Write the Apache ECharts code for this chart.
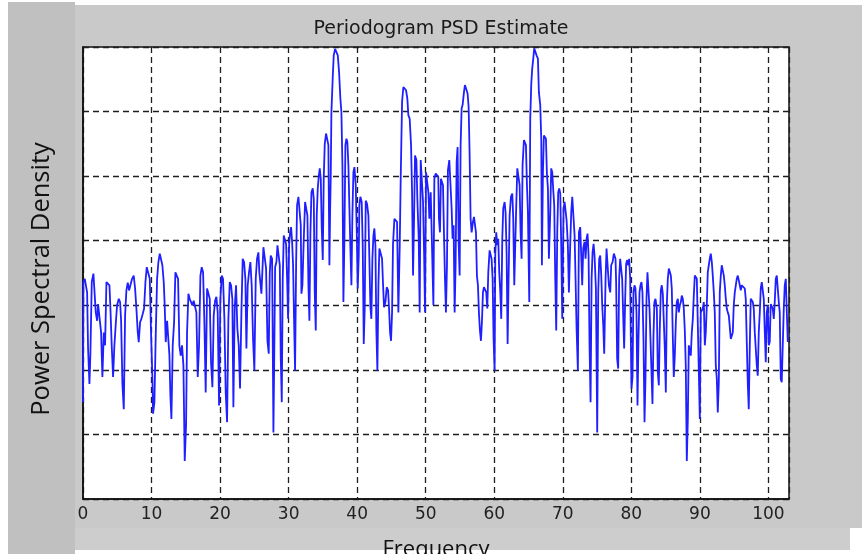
<!DOCTYPE html>
<html>
<head>
<meta charset="utf-8">
<script src="https://cdn.jsdelivr.net/npm/echarts@6/dist/echarts.min.js"></script>
<style>
html,body{margin:0;padding:0;background:#fff;}
#chart{width:862px;height:554px;}
</style>
</head>
<body>
<div id="chart"></div>
<script>
// Chart texts
const chartTitle = 'Periodogram PSD Estimate';
const xName = 'Frequency';
const yName = 'Power Spectral Density';

// Frequency axis range / ticks
const xMin = 0, xMax = 103, xStep = 10;
// PSD axis (unlabelled in the original): 7 grid intervals
const yMin = 0, yMax = 70, yStep = 10;

// Periodogram samples [frequency, PSD level]
const segA = [[0.00,15.0],[0.06,33.6],[0.26,34.1],[0.45,34.1],[0.60,32.0],[0.74,23.3],[0.94,17.8],[1.08,22.5],[1.28,33.6],[1.52,34.9],[1.72,34.6],[1.86,28.9],[2.06,27.6],[2.20,30.2],[2.49,30.2],[2.64,25.8],[2.83,18.9],[3.03,25.8],[3.22,23.8],[3.42,33.6],[3.66,33.7],[3.86,33.1],[4.00,29.5],[4.20,23.5],[4.39,18.9],[4.58,23.8],[4.78,27.1],[4.97,30.0],[5.22,31.0],[5.41,30.5],[5.56,27.6],[5.75,17.8],[5.95,13.9],[6.14,28.4],[6.33,32.3],[6.53,33.5],[6.72,32.3],[6.92,32.6],[7.16,34.1],[7.40,34.6],[7.60,32.6],[7.79,29.5],[7.99,25.8],[8.13,24.3],[8.33,27.4],[8.52,27.9],[8.72,28.7],[8.91,29.5],[9.11,33.6],[9.30,35.9],[9.54,36.2],[9.74,34.1],[9.93,25.6],[10.13,18.6],[10.22,13.2],[10.42,15.0],[10.61,25.3],[10.81,34.1],[11.00,36.7],[11.20,38.0],[11.39,37.7],[11.58,36.2],[11.78,33.6],[11.92,30.0],[12.07,24.3],[12.27,27.6],[12.46,27.4],[12.61,22.2],[12.75,16.0],[12.90,12.4],[13.09,23.8],[13.29,27.4],[13.48,35.1],[13.68,34.9],[13.87,34.1],[14.06,23.8],[14.26,22.2],[14.45,23.8],[14.65,20.7],[14.84,5.9],[15.04,11.6],[15.18,25.8],[15.38,31.8],[15.57,31.0],[15.77,31.0],[15.96,30.0],[16.15,30.7],[16.35,30.5],[16.54,28.9],[16.74,18.9],[16.93,23.8],[17.13,34.6],[17.32,35.9],[17.52,35.1],[17.71,27.4],[17.90,16.5],[18.10,32.6],[18.29,32.6],[18.49,31.0],[18.68,21.2],[18.88,17.3],[19.07,28.4],[19.27,30.7],[19.46,31.3],[19.65,28.9],[19.85,14.5],[20.04,31.0],[20.24,34.6],[20.43,34.1],[20.63,27.9],[20.82,16.5],[21.02,11.9],[21.21,27.9],[21.41,33.6],[21.60,33.1],[21.79,31.0],[21.94,14.2],[22.13,29.5],[22.33,33.1],[22.52,26.4],[22.72,23.8],[22.91,17.1],[23.11,28.9],[23.30,37.2],[23.50,36.7],[23.69,34.1],[23.84,23.3],[24.03,33.1],[24.22,35.1],[24.42,36.7],[24.61,33.1],[24.81,24.8],[25.00,19.9],[25.20,34.1],[25.39,37.2],[25.59,38.2],[25.73,35.1]];

const segB = [[26.03,31.8],[26.32,39.0],[26.52,39.0],[26.71,35.7],[26.91,24.5],[27.10,22.5],[27.25,35.1],[27.39,37.7],[27.59,37.2],[27.78,10.3],[27.88,19.9],[28.03,35.9],[28.22,36.7],[28.37,39.3],[28.56,39.5],[28.71,36.2],[28.85,22.0],[29.00,15.0],[29.14,34.1],[29.29,40.8],[29.48,41.1],[29.63,39.5],[29.78,34.1],[29.92,27.9],[30.07,39.3],[30.21,41.3],[30.36,42.1],[30.51,39.8],[30.65,36.2],[30.80,27.4],[30.94,19.9],[31.09,36.2],[31.23,45.5],[31.43,46.8],[31.62,46.5],[31.77,42.4],[31.87,31.8],[32.01,33.1],[32.21,40.3],[32.40,46.0],[32.60,46.0],[32.74,43.9],[32.89,33.1],[33.03,27.6],[33.18,41.3],[33.33,47.5],[33.52,48.1],[33.67,46.5],[33.81,32.0],[33.96,26.1],[34.10,43.9],[34.25,48.1],[34.39,49.9],[34.54,51.2],[34.69,49.6],[34.83,42.1],[34.98,37.0],[35.12,49.6],[35.27,55.0],[35.46,56.6],[35.66,56.6],[35.80,54.8],[35.95,36.2],[36.05,44.4],[36.14,49.6],[36.24,59.9],[36.44,65.4],[36.58,68.7],[36.78,69.7],[37.02,69.7],[37.17,68.7],[37.36,66.1],[37.55,62.0],[37.70,59.9],[37.85,51.7],[37.99,30.5],[38.14,40.3],[38.28,54.8],[38.43,55.8],[38.57,55.3],[38.72,51.7],[38.87,45.0],[39.01,38.8],[39.16,33.1],[39.30,43.9],[39.45,50.6],[39.60,51.4],[39.79,48.6],[39.94,41.3],[40.08,32.6],[40.23,37.7],[40.32,45.5],[40.47,46.8],[40.66,46.0],[40.81,39.3],[40.96,24.0],[41.10,29.5],[41.25,46.2],[41.44,45.7],[41.64,43.9],[41.78,37.2],[41.93,29.7],[42.07,27.9],[42.22,37.2],[42.37,40.8],[42.51,41.9],[42.66,39.3],[42.80,26.1],[42.95,19.9],[43.10,33.1],[43.24,38.8],[43.44,39.0],[43.63,37.2],[43.78,33.1],[43.92,29.7],[44.12,30.5],[44.31,32.8],[44.51,32.3],[44.65,29.5],[44.80,25.8],[44.94,24.5],[45.09,28.9],[45.23,39.5],[45.43,43.4],[45.62,43.7],[45.82,42.9],[46.01,28.9],[46.21,39.3],[46.35,49.6],[46.55,61.5],[46.74,63.8],[46.94,64.1],[47.13,63.3],[47.32,62.0],[47.47,59.4],[47.66,58.9],[47.86,54.8],[48.01,47.5],[48.15,34.6],[48.30,43.4],[48.44,53.2],[48.64,52.5],[48.78,46.5],[48.98,40.3],[49.12,28.9],[49.27,52.5],[49.46,52.2],[49.61,46.0],[49.76,38.2],[49.90,28.9],[50.05,50.6],[50.24,50.6],[50.39,47.5],[50.53,43.4],[50.73,47.5],[50.92,47.5],[51.12,30.0],[51.26,49.6],[51.46,50.4],[51.60,50.6]];

const segC = [[51.69,50.1],[51.83,49.9],[51.93,43.4],[52.08,41.3],[52.22,49.6],[52.37,49.9],[52.52,48.6],[52.66,41.3],[52.81,34.1],[52.95,28.9],[53.10,36.2],[53.24,50.9],[53.44,52.5],[53.63,52.2],[53.78,45.0],[53.92,40.3],[54.07,42.4],[54.22,28.9],[54.36,36.2],[54.51,52.2],[54.65,54.5],[54.80,39.8],[54.95,34.6],[55.09,54.8],[55.24,60.5],[55.38,61.0],[55.58,63.0],[55.72,64.1],[55.92,63.8],[56.11,62.8],[56.26,60.7],[56.40,53.7],[56.55,43.4],[56.70,41.3],[56.89,42.9],[57.04,43.7],[57.18,43.9],[57.33,41.3],[57.47,34.6],[57.62,33.1],[57.77,28.7],[57.91,26.1],[58.06,24.5],[58.20,27.4],[58.35,32.0],[58.49,32.8],[58.69,33.1],[58.83,32.0],[58.98,29.5],[59.13,35.1],[59.32,38.5],[59.47,38.8],[59.61,37.2],[59.76,34.1],[59.90,24.8],[60.05,19.9],[60.15,38.0],[60.29,41.3],[60.44,39.3],[60.58,40.3],[60.73,35.1],[60.88,32.0],[61.02,27.9],[61.17,40.3],[61.31,45.0],[61.51,46.0],[61.65,44.4],[61.80,38.2],[61.95,24.0],[62.09,34.1],[62.24,43.9],[62.43,46.8],[62.63,47.3],[62.77,43.4],[62.92,33.1],[63.06,39.3],[63.21,45.5],[63.36,51.2],[63.55,51.4],[63.70,48.6],[63.84,41.3],[63.99,37.2],[64.13,51.7],[64.33,55.6],[64.47,55.8],[64.62,54.8],[64.77,48.6],[64.91,44.4],[65.11,30.5],[65.25,58.9],[65.40,64.3],[65.54,66.7],[65.69,68.2],[65.83,69.8],[65.98,69.8],[66.17,68.7],[66.37,68.2],[66.51,63.0],[66.71,61.0],[66.86,55.6],[66.95,36.2],[67.10,50.6],[67.24,56.3],[67.39,56.6],[67.54,55.8],[67.68,50.4],[67.83,48.1],[67.97,37.2],[68.17,44.4],[68.31,51.2],[68.46,50.6],[68.61,47.8],[68.75,45.5],[68.90,34.1],[69.04,26.1],[69.19,41.3],[69.33,47.5],[69.48,48.1],[69.63,47.3],[69.77,39.3],[69.92,27.9],[70.11,45.0],[70.26,46.0],[70.40,46.0],[70.55,43.2],[70.74,39.3],[70.89,32.0],[71.08,39.3],[71.23,44.4],[71.38,46.8],[71.57,46.8],[71.72,40.8],[71.86,34.1],[72.01,26.4],[72.20,19.9],[72.35,41.3],[72.54,42.1],[72.69,37.7],[72.83,33.1],[72.98,38.8],[73.17,39.8],[73.32,37.2],[73.47,40.3],[73.61,41.1],[73.76,37.7],[73.90,23.8],[74.05,15.0],[74.20,34.1],[74.34,38.2],[74.49,39.5],[74.63,37.7],[74.83,32.6],[75.02,10.3],[75.17,32.0],[75.31,37.2],[75.46,37.7],[75.61,34.6],[75.75,30.0],[75.90,26.9],[76.04,22.5],[76.24,34.1],[76.38,38.8],[76.58,38.5],[76.72,33.1],[76.92,32.0],[77.06,36.2],[77.26,36.7],[77.45,38.0]];

const segD = [[77.54,38.0],[77.69,37.2],[77.78,33.6],[77.93,21.7],[78.08,20.2],[78.22,34.1],[78.37,37.2],[78.51,37.0],[78.66,34.1],[78.81,28.4],[78.95,23.3],[79.10,31.0],[79.24,36.4],[79.39,37.0],[79.53,36.2],[79.68,37.2],[79.83,34.1],[79.92,25.3],[80.02,17.1],[80.17,18.9],[80.31,32.0],[80.46,33.1],[80.60,32.6],[80.75,28.9],[80.90,14.5],[81.04,24.8],[81.19,32.0],[81.33,33.1],[81.48,33.6],[81.62,32.0],[81.77,24.8],[81.92,11.9],[82.06,18.6],[82.21,31.0],[82.35,35.1],[82.50,35.1],[82.65,29.5],[82.79,24.8],[82.94,19.6],[83.08,14.7],[83.23,25.3],[83.37,30.5],[83.52,31.0],[83.72,29.5],[83.86,19.6],[84.01,17.6],[84.15,26.4],[84.30,32.3],[84.44,33.1],[84.59,31.8],[84.74,27.4],[84.88,23.3],[85.03,16.5],[85.17,30.0],[85.32,34.1],[85.47,35.7],[85.61,35.9],[85.76,34.6],[85.90,32.6],[86.05,25.1],[86.19,18.9],[86.34,22.2],[86.49,27.4],[86.63,30.5],[86.78,31.0],[86.92,28.9],[87.07,30.0],[87.22,30.5],[87.36,31.5],[87.51,31.0],[87.65,29.5],[87.80,26.1],[87.94,20.7],[88.09,5.9],[88.24,12.4],[88.38,23.8],[88.53,24.0],[88.67,22.2],[88.82,25.8],[88.97,27.9],[89.11,31.5],[89.26,34.6],[89.40,34.9],[89.55,34.1],[89.69,27.4],[89.84,27.4],[89.99,12.4],[90.13,28.9],[90.28,29.2],[90.42,29.5],[90.57,30.5],[90.72,23.8],[90.86,25.8],[91.01,30.0],[91.15,35.1],[91.30,36.2],[91.44,37.2],[91.59,38.0],[91.74,36.7],[91.88,34.6],[92.03,32.0],[92.17,28.9],[92.32,20.7],[92.47,18.6],[92.61,13.4],[92.76,18.1],[92.90,32.0],[93.05,34.6],[93.19,36.2],[93.34,35.9],[93.49,34.6],[93.63,33.1],[93.78,31.0],[93.92,29.5],[94.07,28.9],[94.22,28.4],[94.36,28.2],[94.51,24.8],[94.65,24.8],[94.80,25.8],[94.94,30.0],[95.09,32.0],[95.24,33.1],[95.38,34.1],[95.53,34.6],[95.67,33.9],[95.82,33.1],[95.97,32.3],[96.11,33.1],[96.26,33.3],[96.40,33.1],[96.55,32.6],[96.69,31.0],[96.84,24.3],[96.99,17.8],[97.13,13.9],[97.28,23.8],[97.42,31.0],[97.57,30.7],[97.72,30.5],[97.86,29.5],[98.01,25.8],[98.15,25.8],[98.30,20.7],[98.44,19.1],[98.59,25.8],[98.74,28.9],[98.88,32.6],[99.03,33.6],[99.17,33.6],[99.32,31.0],[99.47,25.8],[99.61,21.2],[99.76,28.9],[99.90,30.0],[100.05,23.8],[100.19,24.3],[100.34,30.2],[100.49,30.0],[100.63,29.5],[100.78,27.9],[100.92,30.5],[101.07,34.1],[101.22,34.6],[101.36,34.6],[101.51,30.5],[101.65,28.9],[101.80,18.6],[101.94,18.1],[102.09,23.8],[102.24,29.5],[102.38,33.1],[102.53,34.1],[102.67,34.4],[102.82,24.3]];

const psdData = segA.concat(segB, segC, segD);

const chart = echarts.init(document.getElementById('chart'), null, {renderer: 'canvas'});
const gridLine = {show: true, lineStyle: {color: '#1e1e1e', width: 1.3, type: [6, 4]}};

chart.setOption({
  animation: false,
  backgroundColor: '#ffffff',
  graphic: [
    {type: 'rect', z: -10, silent: true, shape: {x: 8, y: 2, width: 67, height: 552}, style: {fill: '#c0c0c0'}},
    {type: 'rect', z: -10, silent: true, shape: {x: 75, y: 5, width: 787, height: 523}, style: {fill: '#c8c9c8'}},
    {type: 'rect', z: -10, silent: true, shape: {x: 75, y: 528, width: 775, height: 22}, style: {fill: '#cdcdcd'}}
  ],
  title: {
    text: chartTitle,
    left: 436, top: 15, textAlign: 'center',
    textStyle: {fontFamily: 'DejaVu Sans', fontSize: 19, fontWeight: 'normal', color: '#1a1a1a'}
  },
  grid: {
    left: 83, top: 47, width: 706, height: 452,
    outerBoundsMode: 'none', containLabel: false,
    show: true, backgroundColor: '#ffffff', borderColor: '#111', borderWidth: 1.5
  },
  xAxis: {
    type: 'value', min: xMin, max: xMax, interval: xStep,
    name: xName, nameLocation: 'middle', nameGap: 40,
    nameTextStyle: {fontFamily: 'Open Sans', fontSize: 22, color: '#111', verticalAlign: 'top'},
    axisLine: {show: true, onZero: false, lineStyle: {color: '#111', width: 1.5}},
    axisTick: {show: false},
    axisLabel: {margin: 7, fontFamily: 'DejaVu Sans', fontSize: 17, color: '#222',
      formatter: v => (v > 100 ? '' : String(v))},
    splitLine: gridLine
  },
  yAxis: {
    type: 'value', min: yMin, max: yMax, interval: yStep,
    name: yName, nameLocation: 'middle', nameGap: 28, nameRotate: 90,
    nameTextStyle: {fontFamily: 'Open Sans', fontSize: 25.5, color: '#111', padding: [0, 12, 0, 0]},
    axisLine: {show: true, lineStyle: {color: '#111', width: 1.5}},
    axisTick: {show: false},
    axisLabel: {show: false},
    splitLine: gridLine
  },
  series: [{
    type: 'line', data: psdData, showSymbol: false, symbol: 'none',
    lineStyle: {color: '#1f1fff', width: 1.8}, z: 5
  }]
});
</script>
</body>
</html>
